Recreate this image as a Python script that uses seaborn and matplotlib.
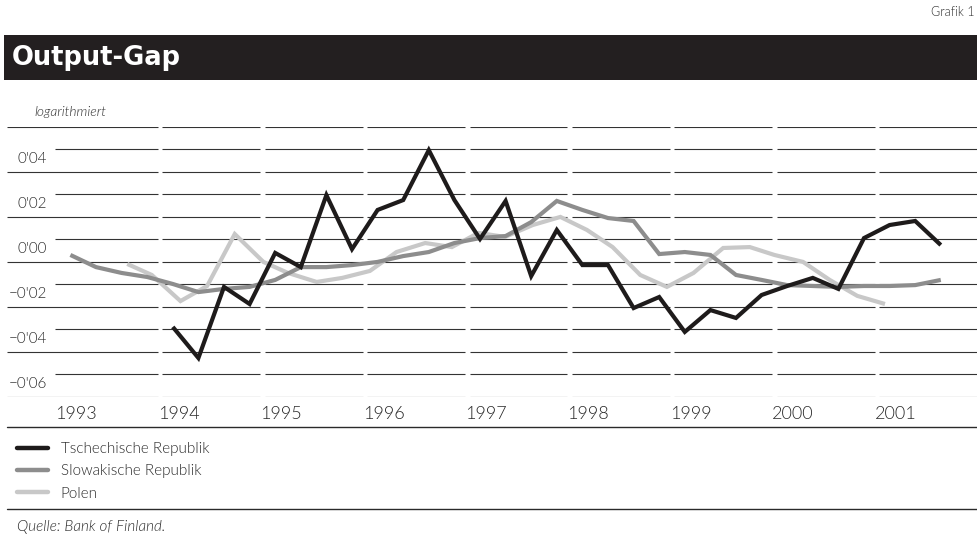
import numpy as np
import pandas as pd
import matplotlib
matplotlib.use("Agg")
import matplotlib.pyplot as plt
import seaborn as sns
from matplotlib.lines import Line2D
from matplotlib.patches import Rectangle

# output gap, log deviations, quarterly
cz_quarters = pd.period_range("1994Q1", "2001Q3", freq="Q")
cz_values = [-0.0290, -0.0428, -0.0112, -0.0188,
             0.0039, -0.0024, 0.0296, 0.0056,
             0.0230, 0.0274, 0.0496, 0.0274,
             0.0101, 0.0270, -0.0064, 0.0141,
             -0.0015, -0.0015, -0.0206, -0.0157,
             -0.0312, -0.0215, -0.0250, -0.0148,
             -0.0108, -0.0072, -0.0121, 0.0105,
             0.0163, 0.0181, 0.0074]

sk_quarters = pd.period_range("1993Q1", "2001Q3", freq="Q")
sk_values = [0.0030, -0.0024, -0.0050, -0.0068,
             -0.0099, -0.0135, -0.0121, -0.0112,
             -0.0081, -0.0024, -0.0024, -0.0015,
             -0.0001, 0.0025, 0.0043, 0.0083,
             0.0105, 0.0114, 0.0176, 0.0270,
             0.0230, 0.0194, 0.0181, 0.0034,
             0.0043, 0.0030, -0.0059, -0.0081,
             -0.0104, -0.0108, -0.0112, -0.0108,
             -0.0108, -0.0104, -0.0081]

# Polen sits on its own time grid in the original
pl_time = [1993.68, 1993.92, 1994.20, 1994.46, 1994.73, 1995.01, 1995.25, 1995.53,
           1995.78, 1996.05, 1996.31, 1996.59, 1996.85, 1997.11, 1997.37, 1997.64,
           1997.91, 1998.17, 1998.42, 1998.69, 1998.95, 1999.21, 1999.50, 1999.76,
           2000.00, 2000.28, 2000.54, 2000.81, 2001.08]
pl_values = [-0.0010, -0.0059, -0.0175, -0.0108, 0.0123, -0.0001, -0.0050, -0.0090,
             -0.0072, -0.0041, 0.0043, 0.0083, 0.0065, 0.0128, 0.0110, 0.0163,
             0.0199, 0.0141, 0.0065, -0.0059, -0.0112, -0.0050, 0.0061, 0.0065,
             0.0030, -0.0001, -0.0081, -0.0152, -0.0188]

series_names = ["Tschechische Republik", "Slowakische Republik", "Polen"]
series_colors = ["#1e1b1b", "#8d8d8d", "#c8c8c8"]

year_labels = ["1993", "1994", "1995", "1996", "1997", "1998", "1999", "2000", "2001"]
ytick_values = [0.04, 0.02, 0.00, -0.02, -0.04, -0.06]
ytick_labels = ["0'04", "0'02", "0'00", "\u22120'02", "\u22120'04", "\u22120'06"]


def quarter_pos(periods):
    return np.array([p.year + (p.quarter - 0.5) / 4 for p in periods])


df_cz = pd.DataFrame({"t": quarter_pos(cz_quarters), "v": cz_values})
df_sk = pd.DataFrame({"t": quarter_pos(sk_quarters), "v": sk_values})
df_pl = pd.DataFrame({"t": pl_time, "v": pl_values})

sns.set_theme(style="white")
plt.rcParams["font.family"] = ["Lato", "DejaVu Sans"]
plt.rcParams["font.weight"] = 300

W, H = 977, 542
fig = plt.figure(figsize=(W / 100, H / 100), dpi=100)

# axes: full width, y from 0.06 line (px 126.7) to -0.06 line (px 396.7)
px_per_year = 102.4
x0_px = 57.6  # start of 1993
xlim = (1993 - x0_px / px_per_year, 1993 + (W - x0_px) / px_per_year)
ax = fig.add_axes([0, 1 - 396.7 / H, 1, 270 / H])
ax.set_xlim(*xlim)
ax.set_ylim(-0.06, 0.06)
for s in ax.spines.values():
    s.set_visible(False)
ax.set_xticks([])
ax.set_yticks([])


def px_to_x(px):
    return xlim[0] + px / px_per_year


# segmented horizontal grid
gap = 2.3 / px_per_year
year_starts = np.arange(1993, 2003)
grid_levels = np.round(np.arange(-0.06, 0.0601, 0.01), 2)
for lvl in grid_levels:
    labelled = round(lvl * 100) % 2 == 0
    for i, ys in enumerate(year_starts[:-1]):
        left = px_to_x(7) if (i == 0 and labelled) else (px_to_x(55) if i == 0 else ys + gap)
        right = min(ys + 1 - gap, xlim[1])
        ax.hlines(lvl, left, right, color="#333333", lw=0.8, zorder=1)

txt_col = "#2a2a2a"

# y labels sit just above their line
for v, lab in zip(ytick_values, ytick_labels):
    ax.text(47 / W, v + 0.0057, lab, transform=ax.get_yaxis_transform(),
            ha="right", va="center", fontsize=11, color=txt_col)

# year labels
for ys, lab in zip(year_starts, year_labels):
    ax.text(ys - 0.02, -0.0677, lab, ha="left", va="center", fontsize=13,
            color=txt_col)

# data lines (black on top)
for df_s, name, col, z in [(df_pl, series_names[2], series_colors[2], 3),
                           (df_sk, series_names[1], series_colors[1], 4),
                           (df_cz, series_names[0], series_colors[0], 5)]:
    sns.lineplot(data=df_s, x="t", y="v", ax=ax, color=col, lw=3.0,
                 estimator=None, sort=True, zorder=z,
                 solid_capstyle="butt", solid_joinstyle="miter")
ax.set_xlabel("")
ax.set_ylabel("")

# title bar and header texts
fig.add_artist(Rectangle((4 / W, 1 - 80 / H), 1 - 4 / W, 45 / H,
                         transform=fig.transFigure, color="#231f20", lw=0))
fig.text(12 / W, 1 - 58 / H, "Output-Gap", color="white", fontsize=18.5,
         fontweight="heavy", ha="left", va="center",
         family=["DejaVu Sans"])
fig.text(975 / W, 1 - 12 / H, "Grafik 1", ha="right", va="center", fontsize=9,
         color=txt_col)
fig.text(34 / W, 1 - 112 / H, "logarithmiert", ha="left", va="center",
         fontsize=10, style="italic", color=txt_col)

# separator lines
for ypx in (427, 509):
    fig.add_artist(Line2D([7 / W, 1], [1 - ypx / H, 1 - ypx / H],
                          transform=fig.transFigure, color="#2a2a2a", lw=1.0))

# legend
handles = [Line2D([], [], color=c, lw=3.2, solid_capstyle="round")
           for c in series_colors]
leg = fig.legend(handles, series_names, loc="upper left",
                 bbox_to_anchor=(17 / W, 1 - 442 / H), frameon=False,
                 fontsize=11, handlelength=2.0, handletextpad=0.85,
                 labelspacing=0.55, borderpad=0, borderaxespad=0)
for t in leg.get_texts():
    t.set_color(txt_col)

fig.text(17 / W, 1 - 527 / H, "Quelle: Bank of Finland.", ha="left",
         va="center", fontsize=11, style="italic", color=txt_col)

fig.savefig("out.png", dpi=100)
